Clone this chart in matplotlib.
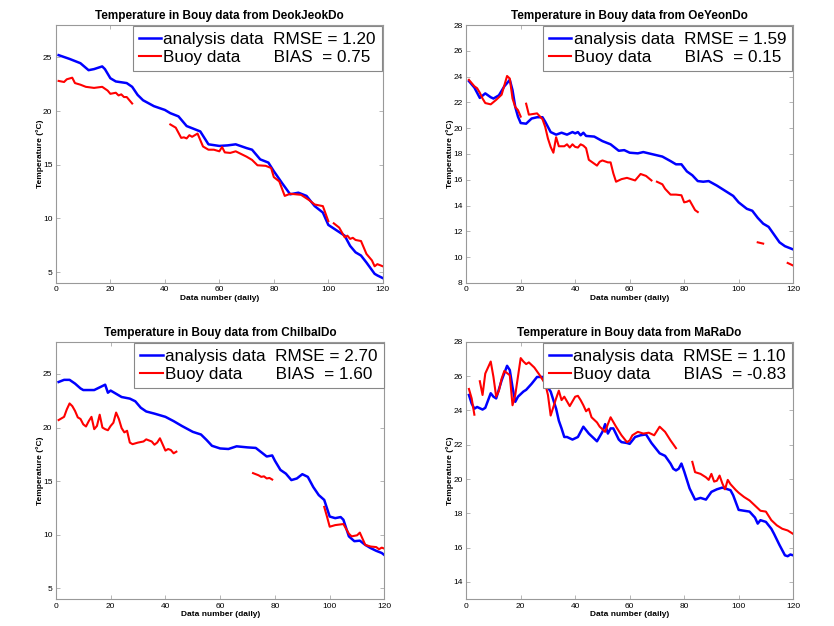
import numpy as np
import matplotlib
matplotlib.use('Agg')
import matplotlib.pyplot as plt

nan = np.nan

# DeokJeokDo
deok_ana_x = [1, 5, 9, 12, 14, 17, 18, 20, 22, 26, 28, 30, 32, 36, 40, 42, 45, 48, 52, 53, 56, 60, 63, 66, 70, 72, 75, 78, 80, 83, 86, 89, 92, 95, 98, 100, 103, 106, 108, 110, 112, 114, 117, 118, 120]
deok_ana_y = [25.2, 24.85, 24.45, 23.8, 23.9, 24.15, 23.9, 23.05, 22.75, 22.6, 22.25, 21.5, 21.0, 20.45, 20.1, 19.8, 19.5, 18.6, 18.2, 18.1, 16.9, 16.75, 16.8, 16.9, 16.55, 16.4, 15.5, 15.2, 14.4, 13.3, 12.25, 12.4, 12.1, 11.15, 10.55, 9.4, 8.9, 8.4, 7.45, 6.85, 6.55, 5.9, 4.85, 4.7, 4.45]
deok_buoy_x = [1, 3, 4, 6, 7, 9, 11, 14, 17, 19, 20, 22, 23, 24, 25, 26, 28, 35,
               42, 44, 46, 47, 48, 49, 50, 52, 53, 54, 56, 58, 60, 61, 62, 64, 66, 68, 70, 72, 74, 77, 79, 80,
               82, 84, 86, 90, 93, 95, 96, 98, 100, 101,
               102, 104, 106, 107, 108, 109, 110, 112, 114, 116, 117, 118, 120]
deok_buoy_y = [22.8, 22.7, 22.95, 23.1, 22.6, 22.45, 22.25, 22.15, 22.25, 21.9, 21.6, 21.7, 21.45, 21.55, 21.3, 21.3, 20.7, nan,
               18.75, 18.45, 17.5, 17.55, 17.45, 17.75, 17.6, 17.9, 17.3, 16.7, 16.4, 16.4, 16.25, 16.65, 16.15, 16.1, 16.25, 16.0, 15.75, 15.45, 14.95, 14.9, 14.7, 13.85,
               13.45, 12.1, 12.3, 12.2, 11.7, 11.3, 11.25, 11.15, 9.75, nan,
               9.55, 9.15, 8.25, 8.4, 8.1, 8.2, 8.0, 7.9, 6.7, 6.1, 5.55, 5.75, 5.55]

# OeYeonDo
oe_ana_x = [1, 3, 5, 7, 9, 10, 12, 14, 16, 17, 18, 19, 20, 22, 24, 26, 28, 29, 31, 33, 35, 37, 39, 40, 41, 42, 43, 44, 47, 50, 53, 56, 58, 60, 63, 65, 68, 72, 75, 77, 79, 81, 83, 85, 87, 89, 92, 95, 98, 100, 103, 105, 107, 109, 111, 113, 115, 117, 120]
oe_ana_y = [23.65, 23.15, 22.35, 22.7, 22.4, 22.3, 22.55, 23.25, 23.75, 22.95, 21.65, 20.9, 20.4, 20.35, 20.75, 20.85, 20.85, 20.5, 19.7, 19.5, 19.65, 19.5, 19.7, 19.6, 19.7, 19.45, 19.65, 19.4, 19.35, 19.0, 18.75, 18.25, 18.3, 18.1, 18.05, 18.15, 18.0, 17.8, 17.45, 17.2, 17.2, 16.65, 16.35, 15.9, 15.85, 15.9, 15.55, 15.15, 14.75, 14.25, 13.75, 13.6, 13.05, 12.6, 12.35, 11.75, 11.15, 10.85, 10.6]
oe_buoy_x = [1, 3, 4, 5, 6, 7, 9, 11, 13, 15, 16, 17, 18, 19, 20, 21,
             22, 23, 26, 28, 29, 30, 31, 32, 33, 34, 36, 37, 38, 39, 40, 41, 42, 43, 44, 45, 47, 48, 49, 50, 52, 53, 54, 55, 57, 59, 62, 64, 66, 68, 69,
             70, 72, 73, 75, 77, 79, 80, 81, 82, 84, 85, 90,
             107, 108, 109, 114,
             118, 119, 120]
oe_buoy_y = [23.75, 23.25, 23.1, 22.75, 22.3, 21.95, 21.85, 22.2, 22.6, 24.05, 23.85, 22.3, 21.65, 21.4, 20.9, nan,
             21.9, 21.05, 21.15, 20.7, 20.1, 19.2, 18.55, 18.1, 19.3, 18.6, 18.6, 18.75, 18.5, 18.75, 18.55, 18.5, 18.75, 18.65, 18.45, 17.55, 17.25, 17.1, 17.4, 17.5, 17.35, 17.35, 16.5, 15.85, 16.05, 16.15, 15.95, 16.45, 16.3, 15.95, nan,
             15.85, 15.65, 15.3, 14.85, 14.85, 14.8, 14.25, 14.3, 14.4, 13.65, 13.5, nan,
             11.15, 11.1, 11.05, nan,
             9.55, 9.45, 9.35]

# ChilbalDo
chil_ana_x = [1, 3, 5, 7, 9, 10, 14, 16, 18, 19, 20, 22, 24, 27, 29, 31, 33, 36, 40, 43, 46, 50, 53, 55, 57, 60, 63, 66, 70, 73, 75, 77, 79, 80, 82, 84, 86, 88, 90, 92, 94, 96, 98, 100, 102, 104, 105, 107, 109, 111, 113, 115, 117, 119, 120]
chil_ana_y = [24.25, 24.45, 24.45, 24.1, 23.65, 23.5, 23.5, 23.75, 24.0, 23.25, 23.45, 23.15, 22.85, 22.7, 22.45, 21.85, 21.5, 21.3, 21.0, 20.6, 20.15, 19.6, 19.35, 18.85, 18.3, 18.05, 18.0, 18.25, 18.15, 18.1, 17.7, 17.3, 17.4, 16.9, 16.05, 15.7, 15.1, 15.25, 15.65, 15.4, 14.45, 13.7, 13.25, 11.7, 11.55, 11.65, 11.4, 9.85, 9.4, 9.45, 9.05, 8.75, 8.5, 8.3, 8.1]
chil_buoy_x = [1, 3, 4, 5, 6, 7, 8, 9, 10, 11, 12, 13, 14, 15, 16, 17, 18, 19, 20, 21, 22, 23, 24, 25, 26, 27, 28, 30, 32, 33, 35, 36, 37, 38, 40, 41, 42, 43, 44, 50,
               72, 74, 75, 76, 77, 78, 79, 85,
               98, 99, 100, 102, 105, 107, 108, 110, 111, 113, 115, 117, 118, 119, 120]
chil_buoy_y = [20.7, 21.0, 21.7, 22.25, 22.0, 21.55, 20.95, 20.8, 20.3, 20.1, 20.6, 21.0, 19.85, 20.15, 21.2, 20.0, 19.85, 19.75, 20.15, 20.45, 21.4, 20.8, 19.95, 19.55, 19.7, 18.6, 18.45, 18.6, 18.7, 18.9, 18.7, 18.4, 18.6, 19.0, 17.85, 18.0, 17.9, 17.6, 17.75, nan,
               15.75, 15.55, 15.4, 15.45, 15.25, 15.3, 15.15, nan,
               12.6, 11.7, 10.75, 10.9, 11.0, 10.1, 9.85, 9.95, 10.2, 9.05, 8.9, 8.85, 8.65, 8.8, 8.7]

# MaRaDo
mara_ana_x = [1, 2, 3, 4, 6, 7, 9, 10, 11, 13, 15, 16, 17, 18, 19, 21, 22, 24, 26, 28, 29, 31, 32, 33, 34, 35, 36, 37, 39, 41, 43, 45, 47, 48, 50, 51, 52, 53, 54, 56, 57, 59, 60, 62, 64, 66, 68, 69, 71, 73, 75, 76, 77, 78, 79, 80, 82, 84, 86, 88, 90, 92, 94, 97, 98, 100, 102, 104, 106, 107, 108, 110, 112, 113, 115, 117, 118, 119, 120]
mara_ana_y = [24.9, 24.4, 24.1, 24.2, 24.05, 24.15, 25.0, 24.8, 24.7, 25.75, 26.6, 26.35, 25.35, 24.5, 24.8, 25.1, 25.2, 25.55, 25.95, 25.95, 25.55, 25.1, 24.6, 24.1, 23.4, 22.95, 22.45, 22.45, 22.3, 22.45, 23.05, 22.65, 22.35, 22.2, 22.75, 23.2, 22.65, 22.95, 22.95, 22.3, 22.15, 22.1, 22.05, 22.45, 22.55, 22.6, 22.1, 21.9, 21.5, 21.35, 20.9, 20.6, 20.5, 20.6, 20.9, 20.45, 19.45, 18.8, 18.9, 18.8, 19.25, 19.4, 19.5, 19.35, 19.05, 18.2, 18.15, 18.1, 17.75, 17.4, 17.6, 17.5, 17.1, 16.8, 16.15, 15.55, 15.5, 15.6, 15.55]
mara_buoy_x = [1, 2, 3, 4,
               5, 6, 7, 9, 10, 11, 12, 13, 14, 16, 17, 18, 20, 21, 22, 23, 25, 27, 29, 30, 31, 32, 33, 34, 35, 36, 38, 40, 41, 42, 43, 44, 45, 46, 48, 49, 51, 52, 53, 55, 57, 59, 60, 61, 63, 65, 67, 69, 71, 73, 75, 77, 80,
               83, 84, 86, 88, 89, 90, 91, 92, 93, 94, 95, 96, 97, 99, 100, 102, 104, 106, 108, 110, 112, 114, 116, 118, 120]
mara_buoy_y = [25.25, 24.7, 23.75, nan,
               25.7, 24.9, 26.15, 26.85, 25.95, 24.8, 25.15, 25.85, 26.3, 26.05, 24.3, 24.9, 27.05, 26.85, 26.7, 26.8, 26.5, 26.05, 25.55, 24.9, 23.7, 24.2, 24.7, 25.15, 24.6, 24.8, 24.25, 24.8, 24.85, 24.6, 24.3, 23.95, 24.1, 23.6, 23.3, 23.05, 22.75, 23.2, 23.6, 23.05, 22.55, 22.15, 22.25, 22.55, 22.75, 22.65, 22.7, 22.55, 23.05, 22.75, 22.25, 21.8, nan,
               21.0, 20.4, 20.3, 20.1, 19.95, 20.3, 19.85, 19.9, 20.2, 19.75, 19.4, 19.95, 19.7, 19.35, 19.2, 18.95, 18.75, 18.45, 18.15, 18.1, 17.6, 17.3, 17.1, 17.0, 16.8]

stations = ['DeokJeokDo', 'OeYeonDo', 'ChilbalDo', 'MaRaDo']
rmse_labels = ['1.20', '1.59', '2.70', '1.10']
bias_labels = ['0.75', '0.15', '1.60', '-0.83']
ylims = [(4, 28), (8, 28), (4, 28), (13, 28)]
yticks = [[5, 10, 15, 20, 25], list(range(8, 29, 2)), [5, 10, 15, 20, 25], list(range(14, 29, 2))]
xticks = [0, 20, 40, 60, 80, 100, 120]

series = [
    (deok_ana_x, deok_ana_y, deok_buoy_x, deok_buoy_y),
    (oe_ana_x, oe_ana_y, oe_buoy_x, oe_buoy_y),
    (chil_ana_x, chil_ana_y, chil_buoy_x, chil_buoy_y),
    (mara_ana_x, mara_ana_y, mara_buoy_x, mara_buoy_y),
]

plt.rcParams['font.family'] = ['Liberation Sans', 'DejaVu Sans']

fig = plt.figure(figsize=(8.34, 6.26), dpi=100)
# axes boxes in figure fractions: left, bottom, width, height
boxes = [
    [0.067, 0.548, 0.392, 0.412],
    [0.559, 0.548, 0.392, 0.412],
    [0.067, 0.043, 0.394, 0.411],
    [0.559, 0.043, 0.392, 0.411],
]

for i in range(4):
    ax = fig.add_axes(boxes[i])
    ax_x, ax_y, b_x, b_y = series[i]
    ax.plot(ax_x, ax_y, color='#0000ff', linewidth=1.8,
            label='analysis data  RMSE = ' + rmse_labels[i])
    ax.plot(b_x, b_y, color='#ff0000', linewidth=1.5,
            label='Buoy data       BIAS  = ' + bias_labels[i])
    ax.set_xlim(0, 120)
    ax.set_ylim(*ylims[i])
    ax.set_xticks(xticks)
    ax.set_yticks(yticks[i])
    ax.tick_params(direction='in', top=True, right=True, labelsize=6, length=3,
                   width=0.5, color='#999999', pad=2.5)
    for sp in ax.spines.values():
        sp.set_color('#999999')
        sp.set_linewidth(0.8)
    ax.set_title('Temperature in Bouy data from ' + stations[i], fontsize=8.5,
                 fontweight='bold', pad=4)
    ax.set_xlabel('Data number (daily)', fontsize=6, fontweight='bold', labelpad=1)
    ax.set_ylabel('Temperature (\u00b0C)', fontsize=6, fontweight='bold', labelpad=-0.5)
    leg = ax.legend(loc='upper right', fontsize=12.3, handlelength=1.3, handletextpad=0.15,
                    borderaxespad=0.05, borderpad=0.35, labelspacing=0.2,
                    fancybox=False, framealpha=1)
    leg.get_frame().set_edgecolor('#888888')
    leg.get_frame().set_linewidth(0.8)

fig.savefig('out.png', dpi=100)
